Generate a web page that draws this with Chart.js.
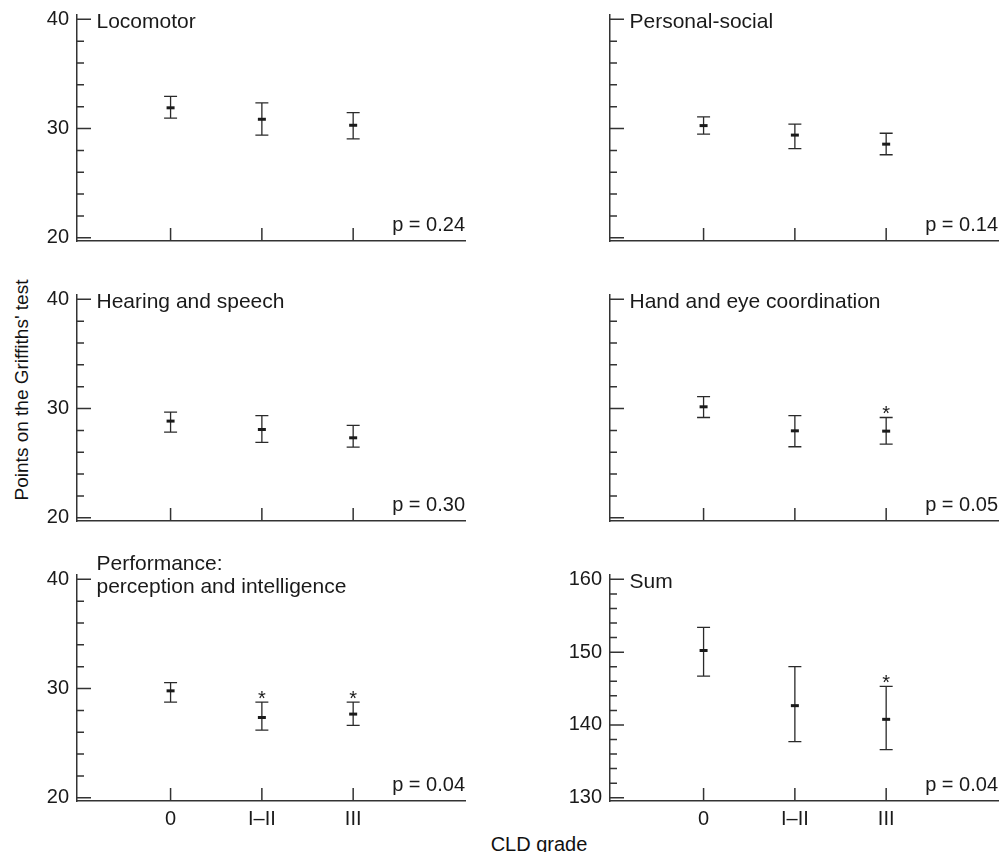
<!DOCTYPE html>
<html>
<head>
<meta charset="utf-8">
<script src="https://cdn.jsdelivr.net/npm/chart.js@4"></script>
<style>
  body { margin: 0; background: #fff; width: 1001px; height: 852px; position: relative; overflow: hidden; font-family: 'Liberation Sans', Arial, sans-serif; color: #111; }
  canvas { position: absolute; }
  .lbl { position: absolute; font-size: 20px; line-height: 20px; white-space: nowrap; }
  #ytitle { left: 22px; top: 390px; font-size: 19px; transform: translate(-50%, -50%) rotate(-90deg); }
  #xtitle { left: 539px; top: 834px; transform: translateX(-50%); }
</style>
</head>
<body>
<div class="lbl" id="ytitle">Points on the Griffiths' test</div>
<div class="lbl" id="xtitle">CLD grade</div>
<canvas id="c0" width="440" height="281" style="left:37px;top:-5px"></canvas>
<canvas id="c1" width="440" height="281" style="left:570px;top:-5px"></canvas>
<canvas id="c2" width="440" height="281" style="left:37px;top:275px"></canvas>
<canvas id="c3" width="440" height="281" style="left:570px;top:275px"></canvas>
<canvas id="c4" width="440" height="281" style="left:37px;top:555px"></canvas>
<canvas id="c5" width="440" height="281" style="left:570px;top:555px"></canvas>
<script>
// CLD grades on the x axis
const grades = ['0', 'I\u2013II', 'III'];
const gradePos = [1, 2, 3];

// tick values
const pointTicks = [20, 22, 24, 26, 28, 30, 32, 34, 36, 38, 40];
const pointLabels = [20, 30, 40];
const sumTicks = [130, 132, 134, 136, 138, 140, 142, 144, 146, 148, 150, 152, 154, 156, 158, 160];
const sumLabels = [130, 140, 150, 160];

// means and error bar ends
const locoMean = [31.9, 30.85, 30.3];
const locoLow = [30.95, 29.4, 29.05];
const locoHigh = [32.95, 32.35, 31.45];

const socialMean = [30.27, 29.4, 28.57];
const socialLow = [29.48, 28.17, 27.6];
const socialHigh = [31.07, 30.4, 29.57];

const hearingMean = [28.85, 28.08, 27.32];
const hearingLow = [27.84, 26.9, 26.47];
const hearingHigh = [29.67, 29.36, 28.45];

const handMean = [30.16, 27.96, 27.93];
const handLow = [29.18, 26.5, 26.74];
const handHigh = [31.1, 29.36, 29.18];

const perfMean = [29.79, 27.35, 27.66];
const perfLow = [28.76, 26.2, 26.62];
const perfHigh = [30.55, 28.76, 28.76];

const sumMean = [150.23, 142.65, 140.77];
const sumLow = [146.7, 137.7, 136.6];
const sumHigh = [153.4, 148.0, 145.3];

const titles = [['Locomotor'], ['Personal-social'], ['Hearing and speech'], ['Hand and eye coordination'], ['Performance:', 'perception and intelligence'], ['Sum']];
const pValues = ['p = 0.24', 'p = 0.14', 'p = 0.30', 'p = 0.05', 'p = 0.04', 'p = 0.04'];
const stars = [[0, 0, 0], [0, 0, 0], [0, 0, 0], [0, 0, 1], [0, 1, 1], [0, 0, 1]];

const panels = [
  {mean: locoMean, low: locoLow, high: locoHigh, ticks: pointTicks, labels: pointLabels, min: 19.7, max: 40.4, showY: true, showX: false},
  {mean: socialMean, low: socialLow, high: socialHigh, ticks: pointTicks, labels: pointLabels, min: 19.7, max: 40.4, showY: false, showX: false},
  {mean: hearingMean, low: hearingLow, high: hearingHigh, ticks: pointTicks, labels: pointLabels, min: 19.7, max: 40.4, showY: true, showX: false},
  {mean: handMean, low: handLow, high: handHigh, ticks: pointTicks, labels: pointLabels, min: 19.7, max: 40.4, showY: false, showX: false},
  {mean: perfMean, low: perfLow, high: perfHigh, ticks: pointTicks, labels: pointLabels, min: 19.7, max: 40.4, showY: true, showX: true},
  {mean: sumMean, low: sumLow, high: sumHigh, ticks: sumTicks, labels: sumLabels, min: 129.55, max: 160.6, showY: true, showX: true}
];

const FONT = "'Liberation Sans', Arial, sans-serif";
const INK = '#1a1a1a';

// axis ticks pointing inward, error bars, titles, p values
const decor = {
  id: 'decor',
  beforeDatasetsDraw(chart) {
    const i = chart.options.plugins.decor.index;
    const p = panels[i];
    const {ctx, chartArea: a, scales: {x, y}} = chart;
    ctx.save();
    ctx.strokeStyle = '#333';
    ctx.lineWidth = 1.5;
    ctx.beginPath();
    y.ticks.forEach(t => {
      const py = y.getPixelForValue(t.value);
      const len = p.labels.includes(t.value) ? 14 : 7;
      ctx.moveTo(a.left, py);
      ctx.lineTo(a.left + len, py);
    });
    x.ticks.forEach(t => {
      const px = x.getPixelForValue(t.value);
      ctx.moveTo(px, a.bottom);
      ctx.lineTo(px, a.bottom - 13);
    });
    ctx.stroke();

    // error bars
    ctx.strokeStyle = '#2a2a2a';
    ctx.lineWidth = 1.3;
    ctx.beginPath();
    gradePos.forEach((g, k) => {
      const px = x.getPixelForValue(g);
      const lo = y.getPixelForValue(p.low[k]);
      const hi = y.getPixelForValue(p.high[k]);
      ctx.moveTo(px, lo); ctx.lineTo(px, hi);
      ctx.moveTo(px - 6.5, lo); ctx.lineTo(px + 6.5, lo);
      ctx.moveTo(px - 6.5, hi); ctx.lineTo(px + 6.5, hi);
    });
    ctx.stroke();

    ctx.fillStyle = INK;
    ctx.font = '20px ' + FONT;
    ctx.textBaseline = 'alphabetic';
    // stars
    ctx.textAlign = 'center';
    gradePos.forEach((g, k) => {
      if (stars[i][k]) {
        ctx.fillText('*', x.getPixelForValue(g), y.getPixelForValue(p.high[k]) + 3);
      }
    });
    // p value
    ctx.textAlign = 'right';
    ctx.fillText(pValues[i], a.right, a.bottom - 10);
    // panel title
    ctx.font = '21px ' + FONT;
    ctx.textAlign = 'left';
    const top = y.getPixelForValue(p.labels[p.labels.length - 1]);
    const t = titles[i];
    if (t.length === 1) {
      ctx.fillText(t[0], a.left + 19.5, top + 9);
    } else {
      ctx.fillText(t[0], a.left + 19.5, top + 14 - 23);
      ctx.fillText(t[1], a.left + 19.5, top + 14);
    }
    ctx.restore();
  }
};

panels.forEach((p, i) => {
  new Chart(document.getElementById('c' + i), {
    type: 'scatter',
    data: {
      datasets: [{
        data: gradePos.map((g, k) => ({x: g, y: p.mean[k]})),
        pointStyle: 'line',
        pointRadius: 4,
        pointBorderWidth: 3,
        borderColor: INK,
        backgroundColor: INK
      }]
    },
    options: {
      responsive: false,
      animation: false,
      events: [],
      layout: {padding: {left: 0, top: 20, right: 12, bottom: 0}},
      plugins: {legend: {display: false}, tooltip: {enabled: false}, decor: {index: i}},
      scales: {
        x: {
          type: 'linear',
          min: -0.025,
          max: 4.225,
          afterBuildTicks: s => { s.ticks = gradePos.map(v => ({value: v})); },
          afterFit: s => { s.height = 35; },
          grid: {display: false, drawTicks: false},
          border: {display: true, color: '#333', width: 1.5},
          ticks: {
            display: p.showX,
            autoSkip: false,
            padding: 6,
            color: INK,
            font: {size: 20, family: FONT},
            maxRotation: 0,
            callback: v => grades[gradePos.indexOf(v)]
          }
        },
        y: {
          min: p.min,
          max: p.max,
          afterBuildTicks: s => { s.ticks = p.ticks.map(v => ({value: v})); },
          afterFit: s => { s.width = 40; },
          grid: {display: false, drawTicks: false},
          border: {display: true, color: '#333', width: 1.5},
          ticks: {
            display: true,
            autoSkip: false,
            padding: 8,
            color: INK,
            font: {size: 20, family: FONT},
            callback: v => (p.showY && p.labels.includes(v)) ? String(v) : ''
          }
        }
      }
    },
    plugins: [decor]
  });
});
</script>
</body>
</html>
